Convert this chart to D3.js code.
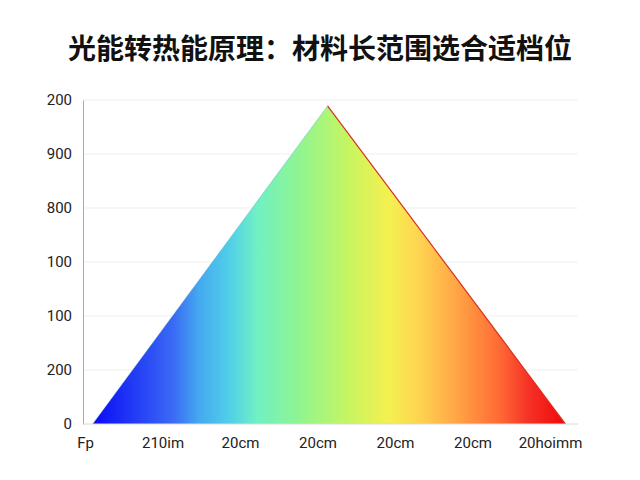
<!DOCTYPE html>
<html>
<head>
<meta charset="utf-8">
<script src="https://cdn.jsdelivr.net/npm/d3@7"></script>
<style>
  body { margin: 0; background: #fff; }
  svg { display: block; }
</style>
</head>
<body>
<svg></svg>
<script>
// DATA
var title = '光能转热能原理：材料长范围选合适档位';
var xLabels = ['Fp', '210im', '20cm', '20cm', '20cm', '20cm', '20hoimm'];
var yLabels = ['0', '200', '100', '100', '800', '900', '200'];
// triangle corners, in axis units
var triX = [0.1, 3.13, 6.2];
var triY = [0, 5.89, 0];
// spectrum fill, left to right
var stopOffsets = [0, 0.17, 0.226, 0.29, 0.347, 0.438, 0.543, 0.628, 0.698, 0.77, 0.86, 0.924, 1];
var stopColors = ['#0a0af5', '#3a6af5', '#45aaf0', '#50d0e8', '#70f0c4', '#90f590', '#c8f560',
                  '#f5f050', '#ffd050', '#ffa545', '#ff6a35', '#f53025', '#ee0a0a'];

var w = 640, h = 480;
var svg = d3.select('svg')
    .attr('width', w)
    .attr('height', h);

// SCALES
var x = d3.scaleLinear().domain([0, 6]).range([85, 550]);
var y = d3.scaleLinear().domain([0, 6]).range([424, 100]);

// TITLE
svg.append('text')
    .text(title)
    .attr('x', 320)
    .attr('y', 59)
    .attr('text-anchor', 'middle')
    .attr('font-family', '"Noto Sans CJK SC", sans-serif')
    .attr('font-weight', 'bold')
    .attr('font-size', 28)
    .attr('fill', '#111');

// GRID
svg.append('g')
    .selectAll('line')
    .data(d3.range(1, 7))
    .enter().append('line')
    .attr('x1', 83).attr('x2', 578)
    .attr('y1', function(d) { return y(d); })
    .attr('y2', function(d) { return y(d); })
    .attr('stroke', '#efefef')
    .attr('stroke-width', 1);

// GRADIENT
var grad = svg.append('defs').append('linearGradient')
    .attr('id', 'spectrum')
    .attr('x1', '0%').attr('x2', '100%')
    .attr('y1', '0%').attr('y2', '0%');

grad.selectAll('stop')
    .data(stopOffsets)
    .enter().append('stop')
    .attr('offset', function(d) { return d; })
    .attr('stop-color', function(d, i) { return stopColors[i]; });

// TRIANGLE
var pts = triX.map(function(d, i) { return [x(d), y(triY[i])]; });

svg.append('path')
    .attr('d', d3.line()(pts) + 'Z')
    .attr('fill', 'url(#spectrum)');

// thin edge lines
svg.append('path')
    .attr('d', d3.line()([pts[1], pts[2]]))
    .attr('stroke', '#d8301c')
    .attr('stroke-width', 1.2)
    .attr('fill', 'none');

svg.append('path')
    .attr('d', d3.line()([pts[0], pts[1]]))
    .attr('stroke', '#3fa0c8')
    .attr('stroke-width', 0.6)
    .attr('stroke-opacity', 0.6)
    .attr('fill', 'none');

// AXES
var yAxis = d3.axisLeft(y)
    .tickValues(d3.range(0, 7))
    .tickFormat(function(d) { return yLabels[d]; })
    .tickSize(0)
    .tickPadding(11);

var gy = svg.append('g')
    .attr('transform', 'translate(83,0)')
    .call(yAxis);
gy.select('.domain').attr('stroke', '#aaa');
gy.selectAll('text')
    .attr('font-family', 'Roboto, sans-serif')
    .attr('font-size', 15)
    .attr('fill', '#222');

var xAxis = d3.axisBottom(x)
    .tickValues(d3.range(0, 7))
    .tickFormat(function(d) { return xLabels[d]; })
    .tickSize(0)
    .tickPadding(13);

var gx = svg.append('g')
    .attr('transform', 'translate(0,424)')
    .call(xAxis);
gx.select('.domain')
    .attr('d', 'M83,0H578')
    .attr('stroke', '#d8d8d8');
gx.selectAll('text')
    .attr('font-family', 'Roboto, sans-serif')
    .attr('font-size', 15)
    .attr('fill', '#222');
</script>
</body>
</html>
